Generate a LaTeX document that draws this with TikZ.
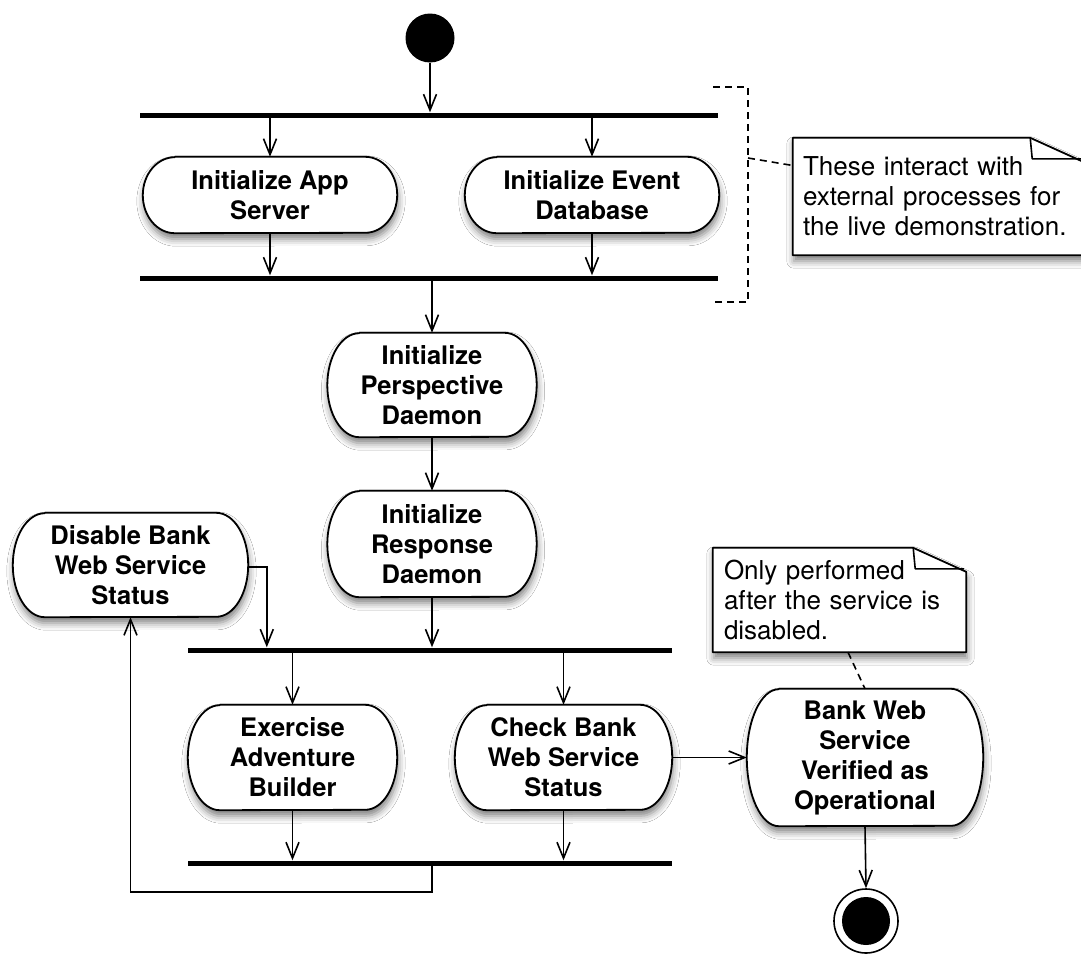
\documentclass[tikz,border=0pt]{standalone}
\usepackage{fontspec}
\setmainfont{TeX Gyre Heros}
\usetikzlibrary{arrows.meta,shadows.blur,backgrounds}

% outline of an action node: straight top and bottom, half-elliptic sides
\newcommand{\actoutline}[2]{%
  \path[actline] ([xshift=32pt]#1.north west) -- ([xshift=-32pt]#1.north east)
    arc[start angle=90,end angle=-90,x radius=32pt,y radius=#2]
    -- ([xshift=32pt]#1.south west)
    arc[start angle=270,end angle=90,x radius=32pt,y radius=#2] -- cycle;}

% outline of a comment box with a folded corner
\newcommand{\noteoutline}[1]{%
  \path[actline] (#1.north west) -- ([xshift=-53pt]#1.north east)
    -- ([yshift=-24pt]#1.north east) -- (#1.south east) -- (#1.south west) -- cycle;
  \draw[line width=1.6pt,line join=round] ([xshift=-53pt]#1.north east)
    -- ([xshift=-51pt,yshift=-21pt]#1.north east) -- ([xshift=-2pt,yshift=-21pt]#1.north east);}

\tikzset{
  act/.style={shape=rectangle,inner sep=0pt,align=center,
    font=\bfseries\fontsize{25.5}{30}\selectfont},
  actline/.style={draw,fill=white,line width=1.8pt,line join=round,
    blur shadow={shadow xshift=1pt,shadow yshift=-6pt,shadow blur radius=7pt,shadow opacity=50}},
  bar/.style={fill=black,inner sep=0pt,minimum height=5pt},
  comment/.style={shape=rectangle,inner ysep=0pt,align=left,
    font=\fontsize{26}{30}\selectfont},
  flow/.style={line width=1.6pt,-{Straight Barb[length=16pt,width=13pt]}},
  dashline/.style={line width=1.6pt,dash pattern=on 7pt off 5pt},
}

\begin{document}
\begin{tikzpicture}[x=1pt,y=-1pt]
\useasboundingbox (0,0) rectangle (1081,953);

% start and end
\node[circle,fill=black,minimum size=49pt,inner sep=0pt] (start) at (430,38) {};
\node[circle,draw,fill=white,line width=1.6pt,minimum size=64pt,inner sep=0pt] (final) at (866,921) {};
\fill (final.center) circle[radius=24pt];

% synchronisation bars
\node[bar,minimum width=578pt] (bar1) at (429,115) {};
\node[bar,minimum width=578pt] (bar2) at (429,278) {};
\node[bar,minimum width=484pt] (bar3) at (430,650) {};
\node[bar,minimum width=484pt] (bar4) at (430,863) {};

% actions
\node[act,minimum width=254pt,minimum height=76pt] (app) at (270,195) {Initialize App\\Server};
\node[act,minimum width=254pt,minimum height=76pt] (event) at (592,195) {Initialize Event\\Database};
\node[act,minimum width=209pt,minimum height=104pt] (persp) at (432,385) {Initialize\\Perspective\\Daemon};
\node[act,minimum width=209pt,minimum height=106pt] (resp) at (432,544) {Initialize\\Response\\Daemon};
\node[act,minimum width=235pt,minimum height=104pt] (disable) at (130.5,565) {Disable Bank\\Web Service\\Status};
\node[act,minimum width=209pt,minimum height=105pt] (exer) at (292.5,757.5) {Exercise\\Adventure\\Builder};
\node[act,minimum width=217pt,minimum height=105pt] (check) at (563.5,757.5) {Check Bank\\Web Service\\Status};
\node[act,minimum width=236pt,minimum height=137pt] (bank) at (865,757.5) {Bank Web\\Service\\Verified as\\Operational};

% comments
\node[comment,inner xsep=10pt,text width=270pt,minimum width=290pt,minimum height=117pt] (note1) at (938,196.5)
  {These interact with\\external processes for\\the live demonstration.};
\node[comment,inner xsep=11pt,text width=231pt,minimum width=253pt,minimum height=104pt] (note2) at (839.5,600)
  {Only performed\\after the service is\\disabled.};

\begin{scope}[on background layer]
  \fill[white] (0,0) rectangle (1081,953);
  \actoutline{app}{38pt}
  \actoutline{event}{38pt}
  \actoutline{persp}{52pt}
  \actoutline{resp}{53pt}
  \actoutline{disable}{52pt}
  \actoutline{exer}{52.5pt}
  \actoutline{check}{52.5pt}
  \actoutline{bank}{68.5pt}
  \noteoutline{note1}
  \noteoutline{note2}
\end{scope}

% control flow
\draw[flow] (start.south) -- (start.south |- bar1.north);
\draw[flow] (app.north |- bar1.south) -- (app.north);
\draw[flow] (event.north |- bar1.south) -- (event.north);
\draw[flow] (app.south) -- (app.south |- bar2.north);
\draw[flow] (event.south) -- (event.south |- bar2.north);
\draw[flow] (persp.north |- bar2.south) -- (persp.north);
\draw[flow] (persp.south) -- (resp.north);
\draw[flow] (resp.south) -- (resp.south |- bar3.north);
\draw[flow] ([yshift=-2pt]disable.east) -| ([xshift=79pt]bar3.north west);
\draw[flow] (exer.north |- bar3.south) -- (exer.north);
\draw[flow] (check.north |- bar3.south) -- (check.north);
\draw[flow] (exer.south) -- (exer.south |- bar4.north);
\draw[flow] (check.south) -- (check.south |- bar4.north);
\draw[flow] ([xshift=2pt]bar4.south) -- ++(0,26) -| (disable.south);
\draw[flow] (check.east) -- (bank.west);
\draw[flow] (bank.south) -- (final.north);

% comment anchors
\draw[dashline] (713,87) -- (748,87) -- (748,302) -- (713,302);
\coordinate (brk) at (748,158);
\draw[dashline] (brk) -- ([yshift=31pt]note1.west);
\draw[dashline] ([xshift=8.5pt]note2.south) -- (bank.north);
\end{tikzpicture}
\end{document}
